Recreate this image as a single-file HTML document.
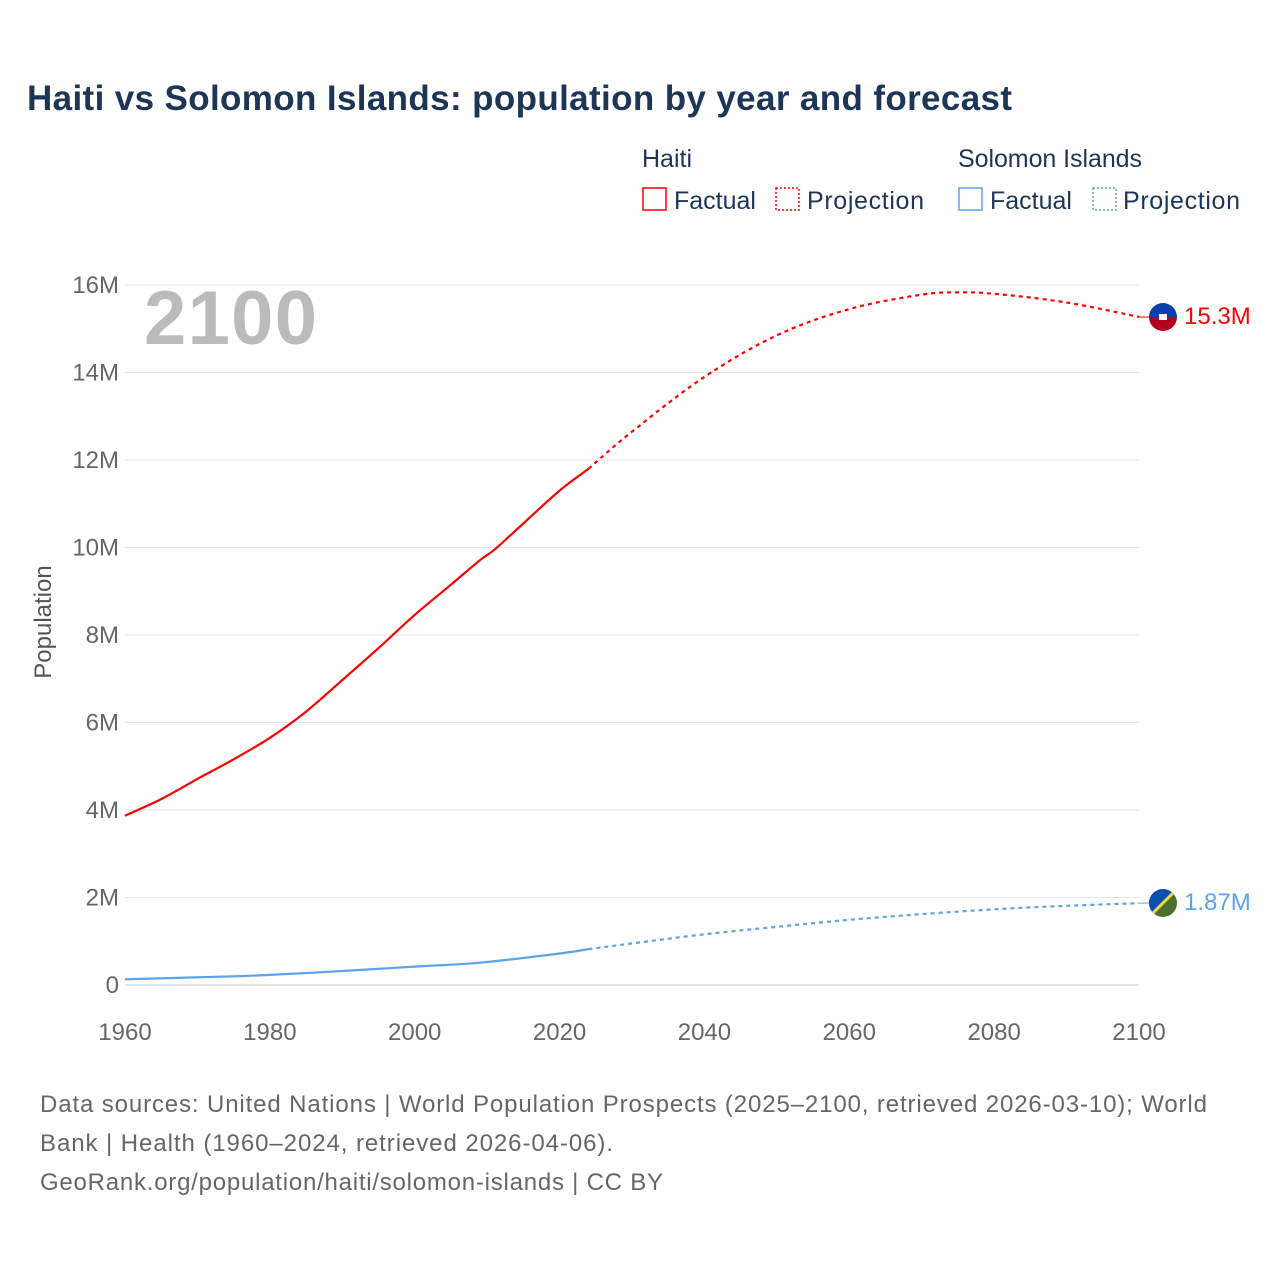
<!DOCTYPE html>
<html><head><meta charset="utf-8"><style>
body{margin:0;background:#fff;font-family:"Liberation Sans",sans-serif}
svg text{font-family:"Liberation Sans",sans-serif}
</style></head><body>
<svg width="1280" height="1280" xmlns="http://www.w3.org/2000/svg">
<text x="27" y="110" font-size="35" font-weight="bold" fill="#1d3557" textLength="985">Haiti vs Solomon Islands: population by year and forecast</text>
<g font-size="25" fill="#1d3557">
<text x="642" y="167">Haiti</text>
<rect x="643" y="188" width="23" height="22" fill="none" stroke="#f00" stroke-width="1.5"/>
<text x="674" y="209">Factual</text>
<rect x="776" y="188" width="23" height="22" fill="none" stroke="#f00" stroke-width="1.5" stroke-dasharray="2,2"/>
<text x="807" y="209" textLength="117">Projection</text>
<text x="958" y="167" textLength="184">Solomon Islands</text>
<rect x="959" y="188" width="23" height="22" fill="none" stroke="#5ba3ea" stroke-width="1.5"/>
<text x="990" y="209">Factual</text>
<rect x="1093" y="188" width="23" height="22" fill="none" stroke="#5ba3ea" stroke-width="1.5" stroke-dasharray="2,2"/>
<text x="1123" y="209" textLength="117">Projection</text>
</g>
<g id="grid"></g>
<text x="144" y="344" font-size="76" font-weight="bold" fill="#bbb" textLength="173">2100</text>
<text transform="translate(51,622) rotate(-90)" text-anchor="middle" font-size="24" fill="#555">Population</text>
<g id="marks"></g>
<g font-size="24" fill="#666">
<text x="40" y="1112" textLength="1167">Data sources: United Nations | World Population Prospects (2025–2100, retrieved 2026-03-10); World</text>
<text x="40" y="1151" textLength="573">Bank | Health (1960–2024, retrieved 2026-04-06).</text>
<text x="40" y="1190" textLength="623">GeoRank.org/population/haiti/solomon-islands | CC BY</text>
</g>
<defs>
<clipPath id="c1"><circle cx="1163" cy="317" r="14"/></clipPath>
<clipPath id="c2"><circle cx="1163" cy="903" r="14"/></clipPath>
</defs>
<g clip-path="url(#c1)"><rect x="1149" y="303" width="28" height="14" fill="#0a3fa8"/><rect x="1149" y="317" width="28" height="14" fill="#b0001e"/><rect x="1159" y="314" width="8" height="6" fill="#fff"/></g>
<g clip-path="url(#c2)"><rect x="1149" y="889" width="28" height="28" fill="#4a7030"/><polygon points="1149,889 1177,889 1149,917" fill="#0a50b0"/><line x1="1149" y1="917" x2="1177" y2="889" stroke="#f0d840" stroke-width="3"/></g>
<text x="1184" y="324" font-size="24" fill="#f00">15.3M</text>
<text x="1184" y="910" font-size="24" fill="#5ba3ea">1.87M</text>
</svg>
<script>
const yTicks=[0,2,4,6,8,10,12,14,16];
const xTicks=[1960,1980,2000,2020,2040,2060,2080,2100];
const haitiYears=[1960,1965,1970,1975,1980,1985,1990,1995,2000,2005,2009,2011,2015,2020,2024];
const haitiVals=[3.87,4.25,4.71,5.16,5.65,6.25,6.97,7.7,8.46,9.15,9.71,9.95,10.55,11.3,11.8];
const haitiProjYears=[2024,2030,2040,2050,2060,2070,2075,2080,2090,2100];
const haitiProjVals=[11.8,12.65,13.9,14.85,15.45,15.78,15.83,15.8,15.6,15.27];
const solYears=[1960,1975,1980,1990,2000,2009,2020,2024];
const solVals=[0.13,0.2,0.23,0.32,0.42,0.51,0.72,0.82];
const solProjYears=[2024,2030,2040,2050,2060,2070,2080,2090,2100];
const solProjVals=[0.82,0.95,1.16,1.33,1.49,1.62,1.73,1.81,1.87];
const X=y=>125+(y-1960)*(1014/140), Y=v=>985-v*43.75;
const NS="http://www.w3.org/2000/svg";
const grid=document.getElementById('grid'), marks=document.getElementById('marks');
function mk(tag,attrs,parent){const e=document.createElementNS(NS,tag);for(const k in attrs)e.setAttribute(k,attrs[k]);parent.appendChild(e);return e;}
yTicks.forEach(t=>{
 const l=mk('line',{x1:125,x2:1139,y1:Y(t),y2:Y(t),stroke:t==0?'#ccc':'#e6e6e6'},grid);
 
 
 const tx=mk('text',{x:119,y:Y(t)+8,'text-anchor':'end','font-size':24,fill:'#666'},grid);
 tx.textContent=t==0?'0':t+'M';
 
 
});
xTicks.forEach(t=>{
 const tx=mk('text',{x:X(t),y:1040,'text-anchor':'middle','font-size':24,fill:'#666'},grid);
 tx.textContent=t;
 
 
});
function line(xs,vs,color,dash,name){
 const P=xs.map((x,i)=>[X(x),Y(vs[i])]);
 let d='M'+P[0][0].toFixed(1)+','+P[0][1].toFixed(1);
 for(let i=0;i<P.length-1;i++){
  const p0=P[i-1]||P[i],p1=P[i],p2=P[i+1],p3=P[i+2]||p2;
  const c1=[p1[0]+(p2[0]-p0[0])/6,p1[1]+(p2[1]-p0[1])/6];
  const c2=[p2[0]-(p3[0]-p1[0])/6,p2[1]-(p3[1]-p1[1])/6];
  d+='C'+c1.map(v=>v.toFixed(1))+' '+c2.map(v=>v.toFixed(1))+' '+p2.map(v=>v.toFixed(1));
 }
 const p=mk('path',{d:d,fill:'none',stroke:color,'stroke-width':2.2},marks);
 if(dash)p.setAttribute('stroke-dasharray','4,4');
 
 
}
line(haitiYears,haitiVals,'#f00',false,'haiti-factual-line');
line(haitiProjYears,haitiProjVals,'#f00',true,'haiti-projection-line');
line(solYears,solVals,'#5ba3ea',false,'solomon-factual-line');
line(solProjYears,solProjVals,'#5ba3ea',true,'solomon-projection-line');
const c1=mk('line',{x1:1139,x2:1149,y1:Y(haitiProjVals[haitiProjVals.length-1]),y2:317,stroke:'#f00','stroke-width':1},marks);


const c2=mk('line',{x1:1139,x2:1149,y1:Y(solProjVals[solProjVals.length-1]),y2:903,stroke:'#5ba3ea','stroke-width':1},marks);


</script>
</body></html>
